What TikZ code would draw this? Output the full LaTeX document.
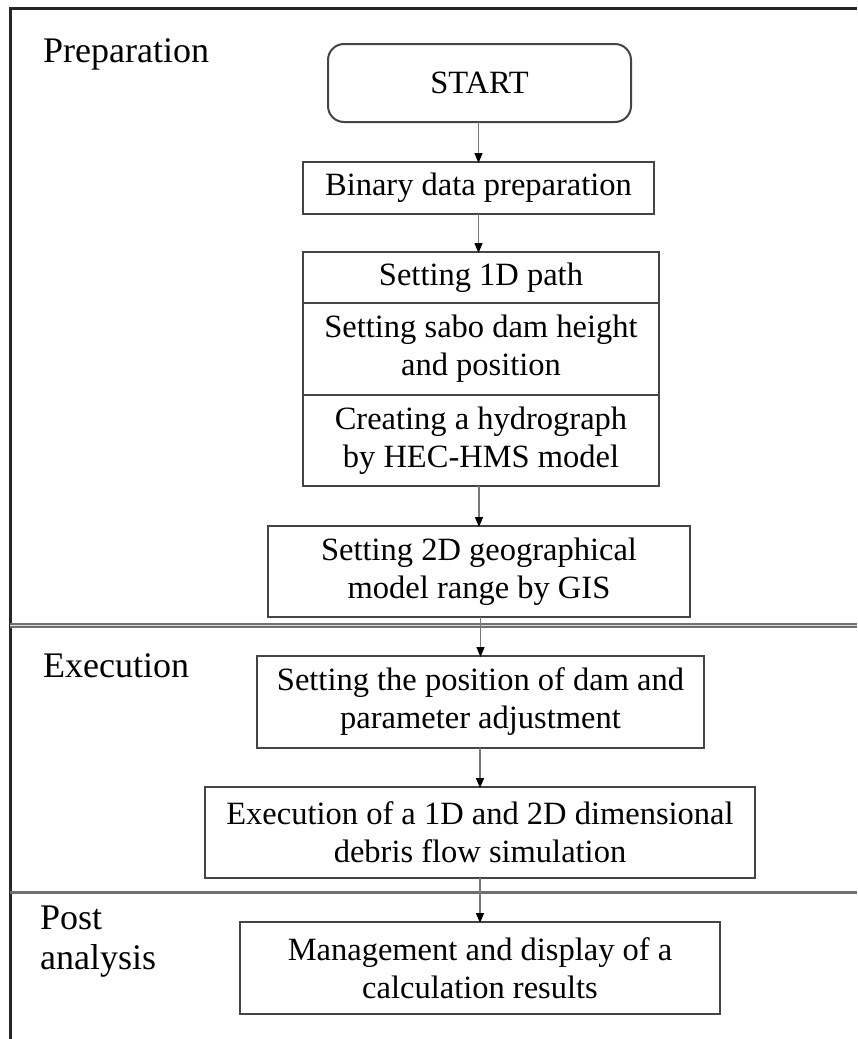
\documentclass[tikz,border=0pt]{standalone}
\usepackage{fontspec}
\setmainfont{Liberation Serif}
\usetikzlibrary{arrows.meta}
\definecolor{boxline}{HTML}{444444}
\definecolor{conn}{HTML}{777777}
\definecolor{sepline}{HTML}{707070}
\begin{document}
\begin{tikzpicture}[x=1pt,y=-1pt,
  box/.style={draw=boxline,line width=2pt,align=center,inner sep=0pt,outer sep=0pt,
    font=\fontsize{32.5}{38}\selectfont},
  lbl/.style={font=\fontsize{36}{40}\selectfont,inner sep=0pt,align=left},
  conarrow/.style={draw=conn,line width=1.3pt,
    -{Triangle[length=10pt,width=8pt,color=black]}}]
\useasboundingbox (0,0) rectangle (857,1039);
% frame
\draw[line width=3pt,color=black!85] (10,1039) -- (10,8) -- (857,8);
\draw[sepline,line width=1.6pt,double=white!70!gray,double distance=1.6pt] (10,625.5) -- (857,625.5);
\draw[sepline,line width=3pt] (10,892) -- (857,892);
% labels
\node[lbl,anchor=base west] (lprep) at (43,62) {Preparation};
\node[lbl,anchor=base west] (lexec) at (43,677) {Execution};
\node[lbl,anchor=north west] (lpost) at (40,906) {Post\\analysis};
% boxes
\node[box,rounded corners=16pt,minimum width=303pt,minimum height=78pt] (start) at (479.5,83) {START};
\node[box,minimum width=351pt,minimum height=52pt] (binary) at (478.5,188) {Binary data preparation};
\node[box,minimum width=356pt,minimum height=51pt] (path) at (481,277.5) {Setting 1D path};
\node[box,minimum width=356pt,minimum height=92pt,anchor=north] (sabo) at (path.south) {Setting sabo dam height\\and position};
\node[box,minimum width=356pt,minimum height=91pt,anchor=north] (hydro) at (sabo.south) {Creating a hydrograph\\by HEC-HMS model};
\node[box,minimum width=422pt,minimum height=91pt] (gis) at (479,571.5) {Setting 2D geographical\\model range by GIS};
\node[box,minimum width=447pt,minimum height=92pt] (pos) at (480.5,702) {Setting the position of dam and\\parameter adjustment};
\node[box,minimum width=550pt,minimum height=91pt] (exe) at (480,832.5) {Execution of a 1D and 2D dimensional\\debris flow simulation};
\node[box,minimum width=480pt,minimum height=92pt] (man) at (480,968) {Management and display of a\\calculation results};
% connectors
\draw[conarrow] (start.south -| binary.north) -- ([yshift=-1pt]binary.north);
\draw[conarrow] (binary.south) -- ([yshift=-1pt]binary.south |- path.north);
\draw[conarrow] (hydro.south -| gis.north) -- ([yshift=-1pt]gis.north);
\draw[conarrow] (gis.south -| pos.north) -- ([yshift=-1pt]pos.north);
\draw[conarrow] (pos.south -| exe.north) -- ([yshift=-1pt]exe.north);
\draw[conarrow] (exe.south -| man.north) -- ([yshift=-1pt]man.north);
\end{tikzpicture}
\end{document}
